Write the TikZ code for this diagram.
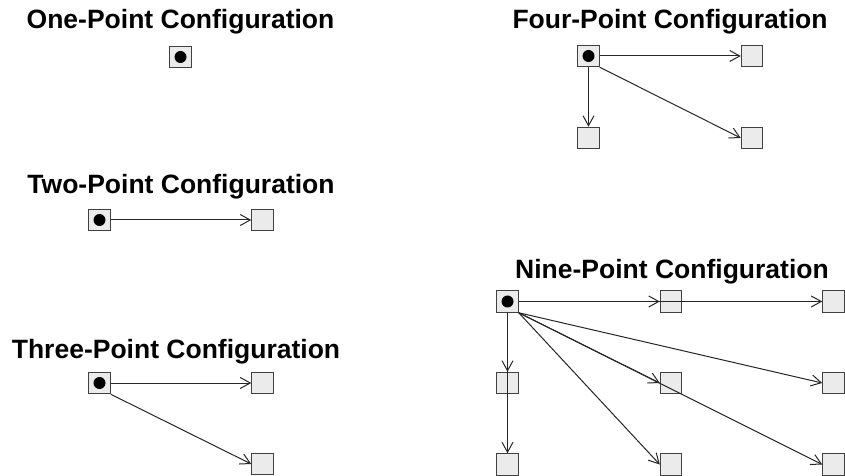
\documentclass[tikz,border=0pt]{standalone}
\usepackage{fontspec}
\setmainfont{Liberation Sans}
\usepackage{tikz}
\usetikzlibrary{arrows.meta}

\definecolor{boxfill}{HTML}{EBEBEB}
\definecolor{boxline}{HTML}{404040}

\begin{document}
\begin{tikzpicture}[
		x=1bp,
		y=-1bp,
		font=\fontsize{26.5bp}{30bp}\selectfont\bfseries,
		title/.style={anchor=base, inner sep=0pt},
		pt/.style={draw=boxline, fill=boxfill, line width=1bp, minimum size=21.5bp, inner sep=0pt},
		src/.style={pt, path picture={\fill[black] (path picture bounding box.center) circle (6bp);}},
		link/.style={-{Straight Barb[length=10bp, width=11bp]}, line width=1bp, draw=black!85}
		]
		\useasboundingbox (0,0) rectangle (845,476);
		
		% One point
		\node[title] (t1) at (180.5,29) {One-Point Configuration};
		\node[src] (a0) at (180.5,57) {};
		
		% Two points
		\node[title] (t2) at (181,194) {Two-Point Configuration};
		\node[src] (b0) at (99.5,220) {};
		\node[pt] (b1) at (262.5,220) {};
		\draw[link] (b0.east) -- (b1.west);
		
		% Three points
		\node[title] (t3) at (176,359) {Three-Point Configuration};
		\node[src] (c0) at (99.5,383) {};
		\node[pt] (c1) at (262.5,383) {};
		\node[pt] (c2) at (262.5,464) {};
		\draw[link] (c0.east) -- (c1.west);
		\draw[link] (c0.south east) -- (c2.west);
		
		% Four points
		\node[title] (t4) at (670,29) {Four-Point Configuration};
		\node[src] (d0) at (588.5,56) {};
		\node[pt] (d1) at (752,56) {};
		\node[pt] (d2) at (588.5,138) {};
		\node[pt] (d3) at (752,138) {};
		\draw[link] (d0.east) -- (d1.west);
		\draw[link] (d0.south) -- (d2.north);
		\draw[link] (d0.south east) -- (d3.west);
		
		% Nine points
		\node[title] (t9) at (672,279) {Nine-Point Configuration};
		\node[src] (e00) at (507.5,301.5) {};
		\node[pt] (e10) at (671,301.5) {};
		\node[pt] (e20) at (833.5,301.5) {};
		\node[pt] (e01) at (507.5,383) {};
		\node[pt] (e11) at (671,383) {};
		\node[pt] (e21) at (833.5,383) {};
		\node[pt] (e02) at (507.5,464.5) {};
		\node[pt] (e12) at (671,464.5) {};
		\node[pt] (e22) at (833.5,464.5) {};
		\draw[link] (e00.east) -- (e10.west);
		\draw[link] (e00.east) -- (e20.west);
		\draw[link] (e00.south) -- (e01.north);
		\draw[link] (e00.south) -- (e02.north);
		\draw[link] (e00.south east) -- (e11.west);
		\draw[link] (e00.south east) -- (e21.west);
		\draw[link] (e00.south east) -- (e12.west);
		\draw[link] (e00.south east) -- (e22.west);
	\end{tikzpicture}
\end{document}
